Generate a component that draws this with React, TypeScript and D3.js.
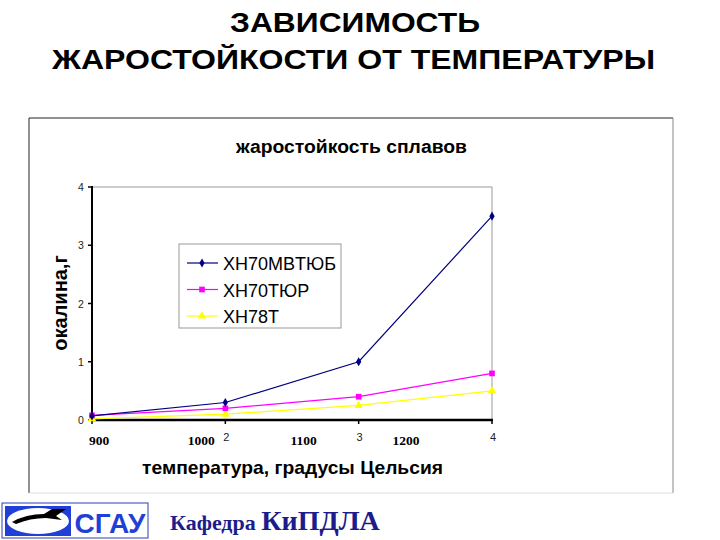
import React from "react";
import * as d3 from "d3";

const categories = [1, 2, 3, 4];
const seriesNames = ["XH70MBTЮБ", "XH70TЮP", "XH78T"];
const seriesA = [0.07, 0.3, 1.0, 3.5];
const seriesB = [0.08, 0.2, 0.4, 0.8];
const seriesC = [0.02, 0.1, 0.25, 0.5];
const yTicks = [0, 1, 2, 3, 4];
const tempLabels = [900, 1000, 1100, 1200];
const colors = ["#000080", "#ff00ff", "#ffff00"];

const W = 720;
const H = 540;

export default function App() {
  const x = d3.scalePoint<number>().domain(categories).range([92, 492]);
  const y = d3.scaleLinear().domain([0, 4]).range([420, 187]);
  const tx = d3.scaleLinear().domain([900, 1200]).range([(x(1) as number) + 7, (x(1) as number) + 314]);
  const all = [seriesA, seriesB, seriesC];
  const line = d3
    .line<number>()
    .x((_, i) => x(categories[i]) as number)
    .y((d) => y(d));
  const sym = [d3.symbolDiamond, d3.symbolSquare, d3.symbolTriangle];
  const symSize = [24, 32, 32];
  const font = "'Liberation Sans', Arial, sans-serif";

  const marker = (k: number, cx: number, cy: number, key: string) => (
    <path
      key={key}
      d={d3.symbol().type(sym[k]).size(symSize[k])() as string}
      transform={`translate(${cx},${cy})`}
      fill={colors[k]}
    />
  );

  return (
    <svg
      width={W}
      height={H}
      style={{ position: "absolute", left: 0, top: 0, background: "#fff" }}
      fontFamily={font}
    >
      <rect x={0} y={0} width={W} height={H} fill="#fff" />
      <text x={355} y={32} textAnchor="middle" fontSize={27} fontWeight="bold" fill="#000" textLength={250} lengthAdjust="spacingAndGlyphs">
        ЗАВИСИМОСТЬ
      </text>
      <text x={353.5} y={69} textAnchor="middle" fontSize={27} fontWeight="bold" fill="#000" textLength={603} lengthAdjust="spacingAndGlyphs">
        ЖАРОСТОЙКОСТИ ОТ ТЕМПЕРАТУРЫ
      </text>

      {/* chart frame */}
      <line x1={29} y1={118} x2={673} y2={118} stroke="#222" strokeWidth={1} />
      <line x1={29} y1={118} x2={29} y2={493} stroke="#222" strokeWidth={1} />
      <line x1={673} y1={118} x2={673} y2={493} stroke="#888" strokeWidth={1} />
      <line x1={29} y1={493} x2={673} y2={493} stroke="#ddd" strokeWidth={1} />

      <text x={351.5} y={153} textAnchor="middle" fontSize={18} fontWeight="bold" fill="#000" textLength={231} lengthAdjust="spacingAndGlyphs">
        жаростойкость сплавов
      </text>

      {/* plot area */}
      <line x1={x(1)} y1={y(4)} x2={x(4)} y2={y(4)} stroke="#999" strokeWidth={1} />
      <line x1={x(4)} y1={y(4)} x2={x(4)} y2={y(0)} stroke="#999" strokeWidth={1} />
      <line x1={x(1)} y1={y(4) - 1} x2={x(1)} y2={y(0) + 1} stroke="#000" strokeWidth={2} />
      <line x1={x(1)} y1={y(0)} x2={(x(4) as number) + 1} y2={y(0)} stroke="#000" strokeWidth={2.5} />
      {yTicks.map((t) => (
        <g key={"yt" + t}>
          <line x1={(x(1) as number) - 4} x2={x(1)} y1={y(t)} y2={y(t)} stroke="#000" strokeWidth={1.5} />
          <text x={81} y={y(t) + 4} textAnchor="middle" fontSize={10.5} fill="#222">
            {t}
          </text>
        </g>
      ))}
      {categories.map((c) => (
        <g key={"xt" + c}>
          <line x1={x(c)} x2={x(c)} y1={y(0)} y2={y(0) + 4} stroke="#000" strokeWidth={1.5} />
          {c > 1 && (
            <text x={(x(c) as number) + 1} y={441} textAnchor="middle" fontSize={11} fill="#222">
              {c}
            </text>
          )}
        </g>
      ))}
      {tempLabels.map((t) => (
        <text
          key={"tl" + t}
          x={tx(t)}
          y={445}
          textAnchor="middle"
          fontSize={13.5}
          fontWeight="bold"
          fontFamily="'Liberation Serif', 'Times New Roman', serif"
          fill="#000"
        >
          {t}
        </text>
      ))}

      {all
        .slice()
        .reverse()
        .map((s, ri) => {
          const k = all.length - 1 - ri;
          return (
            <g key={"s" + k}>
              <path d={line(s) as string} fill="none" stroke={colors[k]} strokeWidth={1.2} />
              {s.map((v, i) => marker(k, x(categories[i]) as number, y(v), `m${k}-${i}`))}
            </g>
          );
        })}

      {/* legend */}
      <rect x={179} y={244} width={162} height={84} fill="#fff" stroke="#999" strokeWidth={1} />
      {seriesNames.map((n, k) => {
        const ly = 263 + k * 26.5;
        return (
          <g key={"lg" + k}>
            <line x1={187} x2={218} y1={ly} y2={ly} stroke={colors[k]} strokeWidth={1.2} />
            {marker(k, 202, ly, "lm" + k)}
            <text x={223} y={ly + 7} fontSize={18} fill="#000">
              {n}
            </text>
          </g>
        );
      })}

      <text
        transform="translate(67,303) rotate(-90)"
        textAnchor="middle"
        fontSize={20}
        fontWeight="bold"
        fill="#000"
      >
        окалина,г
      </text>
      <text x={292.5} y={474} textAnchor="middle" fontSize={18.5} fontWeight="bold" fill="#000" textLength={301} lengthAdjust="spacingAndGlyphs">
        температура, градусы Цельсия
      </text>

      {/* footer logo */}
      <rect x={2} y={503} width={146} height={35} fill="#fff" stroke="#2a3fb8" strokeWidth={1} />
      <rect x={5} y={506} width={66} height={30} fill="#1f3fd6" />
      <ellipse cx={38} cy={521} rx={31} ry={13} fill="#fff" />
      <path d="M12,522 Q26,514 44,514 L52,509 L66,509 L56,516 L62,520 L46,518 Q30,518 16,524 Z" fill="#000" />
      <text x={110} y={533} textAnchor="middle" fontSize={28} fontWeight="bold" fill="#1f3fd6">
        СГАУ
      </text>
      <text x={170} y={530} fontFamily="'Liberation Serif', 'Times New Roman', serif" fontWeight="bold" fill="#1c1c8c">
        <tspan fontSize={22}>Кафедра </tspan>
        <tspan fontSize={28}>КиПДЛА</tspan>
      </text>
    </svg>
  );
}
